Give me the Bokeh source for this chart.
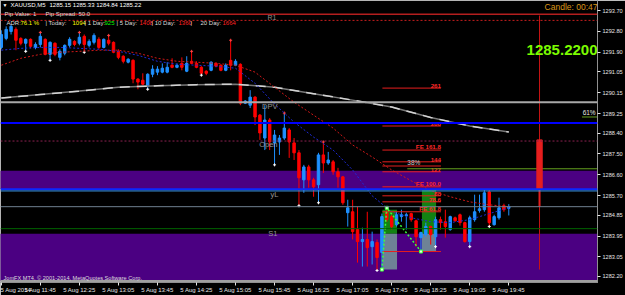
from bokeh.plotting import figure
from bokeh.models import ColumnDataSource, FixedTicker, Label, PrintfTickFormatter, Range1d, Span, AllLabels
from bokeh.embed import file_html
from bokeh.resources import INLINE
from bokeh.core.properties import value

FONT = "Liberation Sans"

# ---------------- data: XAUUSD M5 candles (5 Aug 2014, 11:05 .. 19:45) ----------------
opens = [1292.11, 1292.50, 1292.80, 1292.89, 1292.50, 1292.29, 1292.46, 1292.11, 1292.24, 1292.46,
         1291.81, 1292.29, 1291.68, 1291.86, 1292.20, 1292.37, 1292.29, 1292.59, 1292.20, 1292.33,
         1292.46, 1292.11, 1292.42, 1292.33, 1291.94, 1291.73, 1291.47, 1291.55, 1290.74, 1290.69,
         1290.43, 1290.95, 1291.04, 1291.04, 1291.04, 1291.34, 1291.25, 1291.42, 1291.08, 1291.51,
         1291.42, 1291.25, 1291.08, 1291.12, 1291.42, 1291.34, 1291.12, 1291.55, 1291.34, 1291.38,
         1289.70, 1289.61, 1289.96, 1289.18, 1288.19, 1288.97, 1287.98, 1288.02, 1288.19, 1288.54,
         1287.98, 1287.55, 1286.38, 1286.94, 1286.38, 1286.17, 1287.46, 1287.11, 1287.16, 1286.73,
         1286.51, 1284.96, 1285.00, 1284.23, 1283.71, 1283.80, 1283.49, 1283.67, 1283.24, 1284.96,
         1284.79, 1284.44, 1284.79, 1284.83, 1284.92, 1284.61, 1283.88, 1284.01, 1284.36, 1283.92,
         1284.66, 1284.57, 1284.23, 1284.74, 1284.87, 1284.53, 1283.71, 1284.66, 1285.05, 1285.09,
         1285.86, 1284.44, 1284.74, 1285.26, 1285.15]
highs = [1292.85, 1293.02, 1293.11, 1292.98, 1292.55, 1292.50, 1292.50, 1292.33, 1292.76, 1292.50,
         1292.37, 1292.33, 1292.03, 1292.24, 1292.55, 1292.42, 1292.76, 1292.67, 1292.46, 1292.72,
         1292.55, 1292.50, 1292.63, 1292.37, 1292.03, 1291.77, 1291.64, 1291.60, 1290.78, 1290.99,
         1290.99, 1291.34, 1291.30, 1291.42, 1291.47, 1291.64, 1291.42, 1291.68, 1291.73, 1291.94,
         1291.51, 1291.30, 1291.12, 1291.51, 1291.47, 1291.38, 1291.42, 1292.42, 1291.60, 1291.42,
         1289.83, 1290.26, 1290.00, 1289.23, 1289.61, 1289.05, 1288.54, 1288.32, 1289.27, 1288.62,
         1288.19, 1287.67, 1287.03, 1287.03, 1286.47, 1287.55, 1288.02, 1287.59, 1287.24, 1286.90,
         1286.55, 1285.52, 1285.52, 1285.22, 1284.31, 1285.00, 1284.14, 1283.80, 1284.92, 1285.17,
         1284.87, 1285.00, 1285.09, 1284.96, 1284.96, 1284.66, 1284.14, 1284.53, 1284.40, 1284.79,
         1284.79, 1285.09, 1284.83, 1284.79, 1284.92, 1284.57, 1284.83, 1285.74, 1285.74, 1285.95,
         1285.95, 1284.87, 1285.61, 1285.35, 1285.33]
lows = [1292.03, 1292.42, 1292.67, 1291.99, 1292.20, 1291.94, 1292.07, 1292.03, 1292.11, 1291.77,
        1291.55, 1291.73, 1291.55, 1291.77, 1292.11, 1292.16, 1292.20, 1291.90, 1292.11, 1292.24,
        1292.03, 1292.07, 1292.20, 1291.86, 1291.60, 1291.42, 1291.42, 1290.56, 1290.30, 1290.48,
        1290.30, 1290.82, 1290.91, 1290.99, 1290.99, 1291.21, 1291.21, 1291.12, 1291.04, 1291.38,
        1291.21, 1290.91, 1290.91, 1291.08, 1291.25, 1291.08, 1291.08, 1291.12, 1291.30, 1289.61,
        1289.66, 1289.49, 1288.75, 1288.11, 1287.67, 1287.67, 1287.03, 1287.46, 1288.11, 1287.33,
        1287.24, 1285.26, 1285.82, 1286.04, 1285.65, 1285.39, 1286.68, 1287.03, 1286.60, 1286.04,
        1285.30, 1284.36, 1283.80, 1282.80, 1282.63, 1282.63, 1282.72, 1282.46, 1282.50, 1284.57,
        1284.23, 1284.36, 1284.57, 1284.23, 1284.57, 1283.49, 1283.28, 1283.92, 1283.58, 1283.49,
        1284.23, 1283.88, 1284.18, 1284.57, 1284.40, 1283.67, 1283.49, 1284.57, 1284.96, 1285.00,
        1284.36, 1284.40, 1284.66, 1285.00, 1284.84]
closes = [1292.67, 1292.89, 1293.02, 1292.42, 1292.29, 1292.46, 1292.16, 1292.24, 1292.59, 1291.81,
          1292.33, 1291.81, 1291.94, 1292.20, 1292.46, 1292.24, 1292.55, 1292.24, 1292.37, 1292.63,
          1292.11, 1292.46, 1292.29, 1291.90, 1291.68, 1291.51, 1291.60, 1290.74, 1290.61, 1290.52,
          1290.95, 1291.17, 1291.17, 1291.21, 1291.25, 1291.25, 1291.34, 1291.25, 1291.42, 1291.42,
          1291.25, 1290.99, 1290.99, 1291.47, 1291.30, 1291.12, 1291.34, 1291.34, 1291.51, 1289.70,
          1289.79, 1289.96, 1289.10, 1288.41, 1288.97, 1288.02, 1288.32, 1288.19, 1288.62, 1288.02,
          1287.55, 1286.47, 1286.94, 1286.38, 1286.08, 1287.46, 1287.11, 1287.24, 1286.73, 1286.51,
          1285.39, 1285.17, 1284.14, 1283.71, 1283.80, 1283.45, 1283.71, 1283.02, 1284.79, 1284.66,
          1284.36, 1284.87, 1284.87, 1284.87, 1284.66, 1283.92, 1284.10, 1284.36, 1284.01, 1284.66,
          1284.53, 1284.36, 1284.79, 1284.61, 1284.53, 1283.71, 1284.74, 1285.00, 1285.13, 1285.82,
          1284.53, 1284.79, 1285.17, 1285.09, 1285.22]

# time axis (bar index -> label)
time_label_bars = [0, 8, 16, 24, 32, 40, 48, 56, 64, 72, 80, 88, 96, 104]
time_labels = ["5 Aug 2014", "5 Aug 11:45", "5 Aug 12:25", "5 Aug 13:05", "5 Aug 13:45",
               "5 Aug 14:25", "5 Aug 15:05", "5 Aug 15:45", "5 Aug 16:25", "5 Aug 17:05",
               "5 Aug 17:45", "5 Aug 18:25", "5 Aug 19:05", "5 Aug 19:45"]
price_ticks = [1293.70, 1292.80, 1291.90, 1291.05, 1290.15, 1289.25, 1288.40, 1287.50,
               1286.60, 1285.70, 1284.85, 1283.95, 1283.05, 1282.20]

# moving averages (sampled)
ma_slow_bars = [0, 8, 16, 24, 32, 40, 48, 56, 64, 72, 80, 88, 96, 104]
ma_slow = [1289.92, 1290.07, 1290.22, 1290.39, 1290.45, 1290.50, 1290.52, 1290.39, 1290.11,
           1289.83, 1289.53, 1289.08, 1288.71, 1288.45]
ma_fast_bars = list(range(0, 105, 4))
ma_red = [1291.34, 1291.64, 1291.81, 1291.90, 1291.94, 1291.99, 1291.99, 1291.86, 1291.64,
          1291.51, 1291.47, 1291.42, 1291.34, 1291.04, 1290.39, 1289.74, 1289.18, 1288.62,
          1287.89, 1287.37, 1286.81, 1286.34, 1285.91, 1285.65, 1285.43, 1285.30, 1285.22]
ma_blue = [1291.99, 1292.07, 1292.11, 1292.11, 1292.07, 1292.03, 1291.94, 1291.77, 1291.51,
           1291.38, 1291.34, 1291.30, 1291.21, 1290.56, 1289.66, 1288.88, 1288.23, 1287.67,
           1286.81, 1285.69, 1285.00, 1284.74, 1284.57, 1284.53, 1284.66, 1284.92, 1285.17]

# horizontal levels
r1_level = 1293.54
high_level = 1293.28
dpv_level = 1289.74
pivot_level = 1288.84
open_level = 1288.06
zone_upper = [1285.99, 1286.77]
yl_level = 1285.97
yl_level2 = 1285.90
s1_level = 1284.27
zone_lower = [1282.02, 1284.05]
bottom_level = 1282.00

# fibonacci expansion drawing
fe_bars = [78.1, 90.1]
fe_levels = [1290.35, 1288.71, 1287.67, 1287.16, 1286.98, 1286.73, 1286.08, 1285.69,
             1285.43, 1285.00, 1283.28]
fe_labels = ["261", "200", "FE 161.8", "144", "", "127", "FE 100.0", "88", "78.6", "FE 61.8", ""]
fib38_level = 1286.86
fib38_start = 83.2
fib61_level = 1289.10

# rectangles
box_bars = [[78.1, 81.1], [86.2, 89.1]]
box_tops = [1285.09, 1285.95]
box_bottoms = [1282.50, 1283.28]

# zigzag vertices (bar indices)
zz_bars = [78, 79, 86]

# fractals
up_fractals = [8, 16, 22, 39, 47, 58, 66]
down_fractals = [5, 10, 17, 30, 41, 56, 61, 65, 77, 89, 96, 100]

# higher-timeframe candle projection + time line
proj_bar = 110.3
proj_open, proj_close, proj_low = 1288.11, 1285.99, 1285.22
vline_top, vline_bottom = 1293.49, 1282.50

# ---------------- figure ----------------
FRAME_H = 283
p = figure(width=625, height=295, output_backend="svg", toolbar_location=None,
           x_range=Range1d(-0.163, 122.18), y_range=Range1d(1281.94, 1294.14),
           y_axis_location="right", min_border_left=0, min_border_top=0,
           min_border_right=26, min_border_bottom=12,
           background_fill_color="black", border_fill_color="black")
p.grid.visible = False
p.outline_line_color = "#B4B4B4"

xa = p.xaxis[0]
xa.ticker = FixedTicker(ticks=time_label_bars)
xa.major_label_overrides = {b: t for b, t in zip(time_label_bars, time_labels)}
xa.major_label_policy = AllLabels()
xa.major_label_text_align = "left"
xa.major_label_text_font_size = "6px"
xa.major_label_text_font = FONT
xa.major_label_text_color = "#E6E6E6"
xa.major_label_standoff = 1
xa.major_tick_out = 3
xa.major_tick_in = 0
xa.major_tick_line_color = "#E6E6E6"
xa.minor_tick_line_color = None
xa.axis_line_color = "#909090"

ya = p.yaxis[0]
ya.ticker = FixedTicker(ticks=price_ticks)
ya.formatter = PrintfTickFormatter(format="%.2f")
ya.major_label_policy = AllLabels()
ya.major_label_text_font_size = "5.6px"
ya.major_label_text_font = FONT
ya.major_label_text_color = "#E6E6E6"
ya.major_label_standoff = 2
ya.major_tick_out = 3
ya.major_tick_in = 0
ya.major_tick_line_color = "#E6E6E6"
ya.minor_tick_line_color = None
ya.axis_line_color = "#909090"

XL, XR = -1, 125

# zones
p.quad(left=[XL, XL], right=[XR, XR], bottom=[zone_upper[0], zone_lower[0]],
       top=[zone_upper[1], zone_lower[1]], fill_color="#4B0082", line_color=None)

# rectangles (green over black, slate where they overlap the purple zone)
for (b0, b1), t, b in zip(box_bars, box_tops, box_bottoms):
    p.quad(left=[b0], right=[b1], top=[t], bottom=[max(b, zone_lower[1])],
           fill_color="#128212", line_color=None)
    if b < zone_lower[1]:
        p.quad(left=[b0], right=[b1], top=[min(t, zone_lower[1])], bottom=[b],
               fill_color="#6E8296", line_color=None)

# candles
n = len(opens)
bars = list(range(n))
colors = ["#1E90FF" if c >= o else "#FF0000" for o, c in zip(opens, closes)]
src = ColumnDataSource(dict(x=bars, h=highs, l=lows,
                            top=[max(o, c) for o, c in zip(opens, closes)],
                            bottom=[min(o, c) for o, c in zip(opens, closes)],
                            color=colors))
p.segment(x0="x", y0="l", x1="x", y1="h", line_color="color", line_width=1, source=src)
p.vbar(x="x", width=0.5, top="top", bottom="bottom", fill_color="color",
       line_color="color", line_width=1, source=src)

# fractal markers
p.scatter([b for b in up_fractals], [highs[b] for b in up_fractals], marker="cross",
          size=3, line_color="#FF4040", line_width=1)
p.scatter([b for b in down_fractals], [lows[b] for b in down_fractals], marker="cross",
          size=3, line_color="#FFFFFF", line_width=1)

# horizontal lines
def hl(level, color, width=1, dash="solid"):
    p.add_layout(Span(location=level, dimension="width", line_color=color,
                      line_width=width, line_dash=dash))

hl(r1_level, "#B41E1E", 1.5)
hl(high_level, "#C81E1E", 1, "2 2")
hl(dpv_level, "#A8A8A8", 2)
hl(pivot_level, "#0000FF", 2)
hl(open_level, "#8C2050", 1, "2 2")
hl(yl_level, "#0A28FF", 2)
hl(yl_level2, "#3C96DC", 1)
hl(closes[-1], "#708090", 1)
hl(s1_level, "#006400", 1)
hl(bottom_level, "#A0A0A0", 2)

# moving averages
p.line(ma_slow_bars, ma_slow, line_color="#787878", line_width=1.5)
p.line(ma_slow_bars, ma_slow, line_color="#D2D2D2", line_width=1.5, line_dash="10 7")
p.line(ma_fast_bars, ma_red, line_color="#D01818", line_width=1, line_dash="2 2")
p.line(ma_fast_bars, ma_blue, line_color="#1E2AD8", line_width=1, line_dash="2 2")

# fib expansion lines + labels
p.segment(x0=[fe_bars[0]] * len(fe_levels), x1=[fe_bars[1]] * len(fe_levels),
          y0=fe_levels, y1=fe_levels, line_color="#E61E1E", line_width=1)
p.text(x=[fe_bars[1]] * len(fe_levels), y=fe_levels, text=fe_labels,
       text_align="right", text_baseline="bottom", text_font_size="6.2px",
       text_font=value(FONT), text_font_style="bold", text_color="#FF2828")

# fib retracement (green)
p.segment(x0=[fib38_start], x1=[XR], y0=[fib38_level], y1=[fib38_level],
          line_color="#64A01E", line_width=1)
p.segment(x0=[119.0], x1=[XR], y0=[fib61_level], y1=[fib61_level],
          line_color="#64A01E", line_width=1)
p.text(x=[fib38_start], y=[fib38_level + 0.12], text=["38%"], text_align="left",
       text_baseline="bottom", text_font_size="6.5px", text_font=value(FONT),
       text_color="#C8C8C8")
p.text(x=[121.8], y=[fib61_level + 0.05], text=["61%"], text_align="right",
       text_baseline="bottom", text_font_size="6.5px", text_font=value(FONT),
       text_color="#E6E6E6")

# zigzag
zz_y = [lows[zz_bars[0]], highs[zz_bars[1]], lows[zz_bars[2]]]
p.line(zz_bars, zz_y, line_color="#3CFF3C", line_width=1.5, line_dash="2 2")
p.scatter(zz_bars, zz_y, marker="square", size=3, fill_color="#E6FFE6",
          line_color="#3CFF3C")

# projection candle + time line
p.segment(x0=[proj_bar], x1=[proj_bar], y0=[vline_bottom], y1=[vline_top],
          line_color="#C81414", line_width=1)
p.vbar(x=[proj_bar], width=1.1, top=[proj_open], bottom=[proj_close],
       fill_color="#E61E1E", line_color="#E61E1E")
p.segment(x0=[proj_bar], x1=[proj_bar], y0=[proj_low], y1=[proj_close],
          line_color="#E61E1E", line_width=2)

# ---------------- texts ----------------
def lab(text, x_img, y_img, color="#DCDCDC", size="6px", align="left", style="normal",
        bg=None):
    p.add_layout(Label(x=x_img, y=FRAME_H - y_img, x_units="screen", y_units="screen",
                       text=text, text_color=color, text_font_size=size,
                       text_font=FONT, text_align=align, text_baseline="middle",
                       text_font_style=style, background_fill_color=bg))

ohlc = f"{opens[-1]:.2f} {highs[-1]:.2f} {lows[-1]:.2f} {closes[-1]:.2f}"
lab("\u25bc", 2, 5.5, "#FFFFFF", "5px")
lab("XAUUSD,M5", 10, 5.5, "#FFFFFF")
lab(ohlc, 49, 5.5, "#FFFFFF")
lab("Pip Value: 1", 4, 14.5)
lab("Pip Spread: 50.0", 45, 14.5)

adr_parts = [("ADR:", 6, "#DCDCDC"), ("76.1 %", 20, "#FFFF00"), ("| Today:", 45, "#DCDCDC"),
             ("1094", 72, "#FFFF00"), ("| 1 Day:", 84, "#DCDCDC"), ("925", 104, "#00FF00"),
             ("| 5 Day:", 116, "#DCDCDC"), ("1408", 139, "#FF2020"),
             ("| 10 Day:", 151, "#DCDCDC"), ("1360", 178, "#FF2020"), ("|", 190, "#DCDCDC"),
             ("20 Day:", 200, "#DCDCDC"), ("1664", 222, "#FF2020")]
for t, xx, cc in adr_parts:
    lab(t, xx, 23.5, cc)

lab("R1", 276, 18, "#8C8C8C", "7px", "right")
lab("DPV", 277, 107, "#969696", "7.5px", "right")
lab("Open", 277, 145, "#969696", "7.5px", "right")
lab("yL", 278, 195, "#969696", "7.5px", "right")
lab("S1", 277, 234, "#969696", "7.5px", "right")

lab("Candle: 00:47", 597, 7, "#DB9517", "8.5px", "right")
lab(f"{closes[-1]:.4f}", 597, 50, "#7CFC00", "15px", "right", "bold")
lab("JomFX MT4, \u00a9 2001-2014, MetaQuotes Software Corp.", 3, 278.5, "#DCDCDC", "5.6px")

# price tags on the axis
p.add_layout(Label(x=601, y=closes[-1], x_units="screen", y_units="data",
                   text=f"{closes[-1]:.2f}", text_color="#000000", text_font_size="5.6px",
                   text_font=FONT, text_baseline="middle", background_fill_color="#FFFFFF"))
p.add_layout(Label(x=601, y=high_level, x_units="screen", y_units="data",
                   text=f"{high_level:.2f}", text_color="#FFD2D2", text_font_size="5.6px",
                   text_font=FONT, text_baseline="middle", background_fill_color="#C81E1E"))

open("out.html", "w").write(file_html(p, INLINE))
